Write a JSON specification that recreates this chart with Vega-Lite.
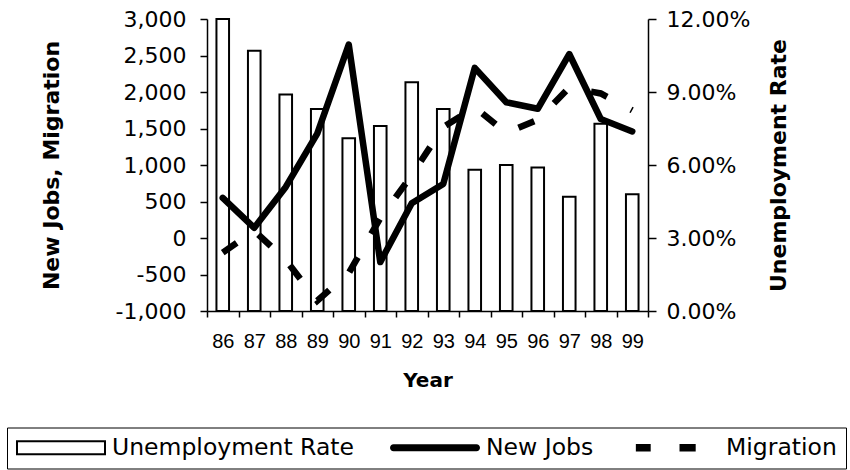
{
  "$schema": "https://vega.github.io/schema/vega-lite/v6.json",
  "autosize": {"type": "none"},
  "width": 441,
  "height": 292,
  "padding": {"left": 207, "top": 19, "right": 202, "bottom": 159},
  "background": "white",
  "config": {
    "view": {"stroke": null},
    "axis": {"domainColor": "black", "tickColor": "black", "labelColor": "black", "titleColor": "black", "domainWidth": 1.5, "tickWidth": 1.5, "grid": false, "titleFontWeight": "bold", "labelOverlap": false}
  },
  "data": {"values": [
    {"Year": "86", "Unemployment": 0.120, "NewJobs": 550, "Migration": -200},
    {"Year": "87", "Unemployment": 0.107, "NewJobs": 140, "Migration": 100},
    {"Year": "88", "Unemployment": 0.089, "NewJobs": 700, "Migration": -300},
    {"Year": "89", "Unemployment": 0.083, "NewJobs": 1430, "Migration": -860},
    {"Year": "90", "Unemployment": 0.071, "NewJobs": 2650, "Migration": -480},
    {"Year": "91", "Unemployment": 0.076, "NewJobs": -330, "Migration": 270},
    {"Year": "92", "Unemployment": 0.094, "NewJobs": 475, "Migration": 860},
    {"Year": "93", "Unemployment": 0.083, "NewJobs": 740, "Migration": 1520},
    {"Year": "94", "Unemployment": 0.058, "NewJobs": 2330, "Migration": 1790},
    {"Year": "95", "Unemployment": 0.060, "NewJobs": 1860, "Migration": 1440},
    {"Year": "96", "Unemployment": 0.059, "NewJobs": 1770, "Migration": 1620},
    {"Year": "97", "Unemployment": 0.047, "NewJobs": 2520, "Migration": 2060},
    {"Year": "98", "Unemployment": 0.077, "NewJobs": 1630, "Migration": 1980},
    {"Year": "99", "Unemployment": 0.048, "NewJobs": 1460, "Migration": 1750}
  ]},
  "layer": [
    {
      "mark": {"type": "bar", "fill": "white", "stroke": "black", "strokeWidth": 2, "width": {"band": 0.4}},
      "encoding": {
        "x": {"field": "Year", "type": "ordinal", "scale": {"paddingInner": 0, "paddingOuter": 0},
          "axis": {"title": "Year", "labelAngle": 0, "tickBand": "extent", "labelFont": "Liberation Sans", "labelFontSize": 20, "labelPadding": 14, "tickSize": 6, "titleFont": "DejaVu Sans", "titleFontSize": 20, "titlePadding": 19}},
        "y": {"field": "Unemployment", "type": "quantitative", "scale": {"domain": [0, 0.12], "nice": false},
          "axis": {"orient": "right", "values": [0, 0.03, 0.06, 0.09, 0.12], "format": ".2%", "title": "Unemployment Rate", "titleAngle": 270, "titleBaseline": "top", "labelFont": "DejaVu Sans", "labelFontSize": 22, "labelPadding": 10, "tickSize": 8, "titleFont": "DejaVu Sans", "titleFontSize": 22, "titlePadding": 19}}
      }
    },
    {
      "layer": [
        {
          "mark": {"type": "line", "color": "black", "strokeWidth": 6.5, "strokeJoin": "round", "strokeCap": "round"},
          "encoding": {
            "x": {"field": "Year", "type": "ordinal"},
            "y": {"field": "NewJobs", "type": "quantitative", "scale": {"domain": [-1000, 3000], "nice": false},
              "axis": {"orient": "left", "values": [-1000, -500, 0, 500, 1000, 1500, 2000, 2500, 3000], "labelOverlap": false, "labelExpr": "replace(format(datum.value, ','), '\u2212', '-')", "title": "New Jobs, Migration", "labelFont": "DejaVu Sans", "labelFontSize": 22, "labelPadding": 14, "tickSize": 7, "titleFont": "DejaVu Sans", "titleFontSize": 22, "titlePadding": 52}}
          }
        },
        {
          "mark": {"type": "line", "color": "black", "strokeWidth": 6.5, "strokeDash": [17, 27], "strokeCap": "butt"},
          "encoding": {
            "x": {"field": "Year", "type": "ordinal"},
            "y": {"field": "Migration", "type": "quantitative",
              "axis": {"orient": "left", "values": [-1000, -500, 0, 500, 1000, 1500, 2000, 2500, 3000], "labelOverlap": false, "labelExpr": "replace(format(datum.value, ','), '\u2212', '-')", "title": "New Jobs, Migration", "labelFont": "DejaVu Sans", "labelFontSize": 22, "labelPadding": 14, "tickSize": 7, "titleFont": "DejaVu Sans", "titleFontSize": 22, "titlePadding": 52}}
          }
        }
      ]
    },
    {
      "data": {"values": [{"series": "Unemployment Rate"}, {"series": "New Jobs"}, {"series": "Migration"}]},
      "mark": {"type": "point", "filled": true, "opacity": 0, "color": "black"},
      "encoding": {
        "shape": {"field": "series", "type": "nominal",
          "scale": {"domain": ["Unemployment Rate", "New Jobs", "Migration"],
            "range": [
              "M-1,-0.167H1V0.167H-1Z M-0.956,-0.122V0.122H0.956V-0.122Z",
              "M-0.922,-0.078H0.922A0.078,0.078 0 0 1 0.922,0.078H-0.922A0.078,0.078 0 0 1 -0.922,-0.078Z",
              "M-0.87,-0.085H-0.54V0.085H-0.87Z M0.1,-0.085H0.46V0.085H0.1Z"
            ]},
          "legend": {"title": null, "orient": "none", "legendX": -200, "legendY": 408.5, "direction": "horizontal", "symbolSize": 8100, "clipHeight": 22, "labelFont": "DejaVu Sans", "labelFontSize": 23.5, "labelColor": "black", "labelOffset": 6, "columnPadding": 36, "padding": 9, "strokeColor": "black", "symbolOpacity": 1, "symbolFillColor": "black", "symbolStrokeColor": "black", "symbolStrokeWidth": 0, "labelLimit": 400}
        }
      }
    }
  ],
  "resolve": {"scale": {"y": "independent"}}
}
